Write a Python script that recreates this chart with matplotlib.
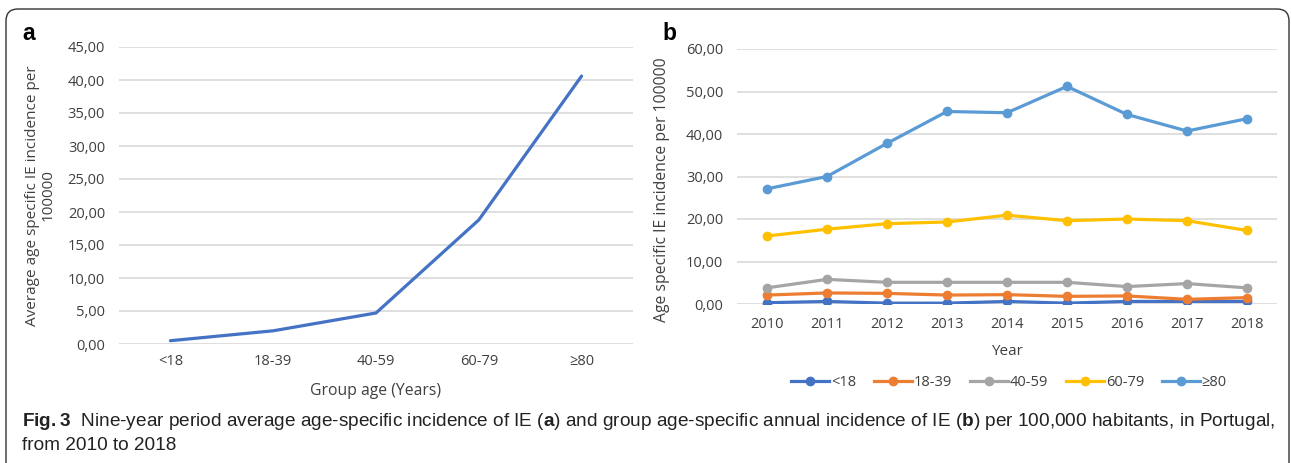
import matplotlib
matplotlib.use("Agg")
import matplotlib.pyplot as plt
from matplotlib.patches import FancyBboxPatch
from matplotlib.ticker import FuncFormatter, MultipleLocator
from matplotlib.transforms import IdentityTransform

# panel a: nine-year average per age group
age_groups = ["<18", "18-39", "40-59", "60-79", "\u226580"]
avg_incidence = [0.5, 2.0, 4.7, 18.8, 40.6]

# panel b: annual incidence per age group
years = ["2010", "2011", "2012", "2013", "2014", "2015", "2016", "2017", "2018"]
inc_lt18 = [0.3, 0.6, 0.2, 0.2, 0.6, 0.2, 0.6, 0.6, 0.6]
inc_18_39 = [2.1, 2.6, 2.5, 2.1, 2.2, 1.8, 1.9, 1.1, 1.5]
inc_40_59 = [3.8, 5.8, 5.1, 5.1, 5.1, 5.1, 4.1, 4.8, 3.8]
inc_60_79 = [16.0, 17.6, 18.9, 19.3, 20.9, 19.6, 20.0, 19.6, 17.3]
inc_ge80 = [27.1, 30.0, 37.8, 45.3, 45.0, 51.2, 44.6, 40.7, 43.6]

series_b = [
    ("<18", inc_lt18, "#4472C4"),
    ("18-39", inc_18_39, "#ED7D31"),
    ("40-59", inc_40_59, "#A5A5A5"),
    ("60-79", inc_60_79, "#FFC000"),
    ("\u226580", inc_ge80, "#5B9BD5"),
]

chart_font = ["Open Sans", "DejaVu Sans"]
cap_font = ["Liberation Sans Narrow", "Liberation Sans", "DejaVu Sans"]
plt.rcParams["font.family"] = chart_font
plt.rcParams["mathtext.fontset"] = "custom"
plt.rcParams["mathtext.bf"] = "Liberation Sans:bold"
plt.rcParams["mathtext.rm"] = "Liberation Sans"

TXT = "#404040"
GRID = "#D9D9D9"
FS = 10.5


def comma_fmt(v, pos):
    return f"{v:.2f}".replace(".", ",")


def style_axes(ax, ymax, step, xpad, ypad):
    ax.set_ylim(0, ymax)
    ax.yaxis.set_major_locator(MultipleLocator(step))
    ax.yaxis.set_major_formatter(FuncFormatter(comma_fmt))
    ax.grid(axis="y", color=GRID, linewidth=1.2)
    ax.set_axisbelow(True)
    for s in ax.spines.values():
        s.set_visible(False)
    ax.tick_params(axis="both", length=0, labelsize=FS, colors=TXT)
    ax.tick_params(axis="y", pad=ypad)
    ax.tick_params(axis="x", pad=xpad)


fig = plt.figure(figsize=(12.91, 4.63), dpi=100)

# rounded frame round the whole figure (bottom edge hidden below the image)
frame = FancyBboxPatch((6, -40), 1283, 494, boxstyle="round,pad=0,rounding_size=12",
                       transform=IdentityTransform(), facecolor="none",
                       edgecolor="#333333", linewidth=1.0)
fig.patches.append(frame)

# panel a
ax1 = fig.add_axes([119 / 1291, 119 / 463, 514 / 1291, 297 / 463])
ax1.plot(range(len(age_groups)), avg_incidence, color="#4472C4", linewidth=2.3,
         solid_capstyle="round")
ax1.set_xlim(-0.5, len(age_groups) - 0.5)
ax1.set_xticks(range(len(age_groups)))
ax1.set_xticklabels(age_groups)
style_axes(ax1, 45, 5, 7, 10)
ax1.set_xlabel("Group age (Years)", fontsize=11.3, color=TXT, labelpad=10)
ax1.set_ylabel("Average age specific IE incidence per\n100000", fontsize=11,
               color=TXT, labelpad=9, linespacing=1.05)
fig.text(22 / 1291, 1 - 33 / 463, "a", fontsize=16.5, fontweight="bold",
         family=["Liberation Sans", "DejaVu Sans"], va="center")

# panel b
ax2 = fig.add_axes([737 / 1291, 159 / 463, 540 / 1291, 255 / 463])
for name, vals, col in series_b:
    ax2.plot(range(len(years)), vals, color=col, linewidth=2.3, marker="o",
             markersize=6, label=name)
ax2.set_xlim(-0.5, len(years) - 0.5)
ax2.set_xticks(range(len(years)))
ax2.set_xticklabels(years)
style_axes(ax2, 60, 10, 9, 10)
ax2.set_xlabel("Year", fontsize=11, color=TXT, labelpad=9)
ax2.set_ylabel("Age specific IE incidence per 100000", fontsize=11.3, color=TXT)
ax2.yaxis.set_label_coords(-0.125, 0.45)
fig.text(662 / 1291, 1 - 33 / 463, "b", fontsize=16.5, fontweight="bold",
         family=["Liberation Sans", "DejaVu Sans"], va="center")

leg = fig.legend(loc="center", bbox_to_anchor=(1009 / 1291, 1 - 383 / 463), ncol=5,
                 frameon=False, fontsize=FS, handlelength=2.6, handletextpad=0.15,
                 columnspacing=1.2, labelcolor=TXT)

# caption
cap1 = (r"$\mathbf{Fig.3}$  Nine-year period average age-specific incidence of IE ($\mathbf{a}$) "
        r"and group age-specific annual incidence of IE ($\mathbf{b}$) per 100,000 habitants, in Portugal,")
fig.text(22 / 1291, 1 - 422 / 463, cap1, fontsize=13.7, family=cap_font, va="center",
         color="#222222")
fig.text(22 / 1291, 1 - 446 / 463, "from 2010 to 2018", fontsize=13.7, family=cap_font,
         va="center", color="#222222")

fig.savefig("out.png", dpi=100)
